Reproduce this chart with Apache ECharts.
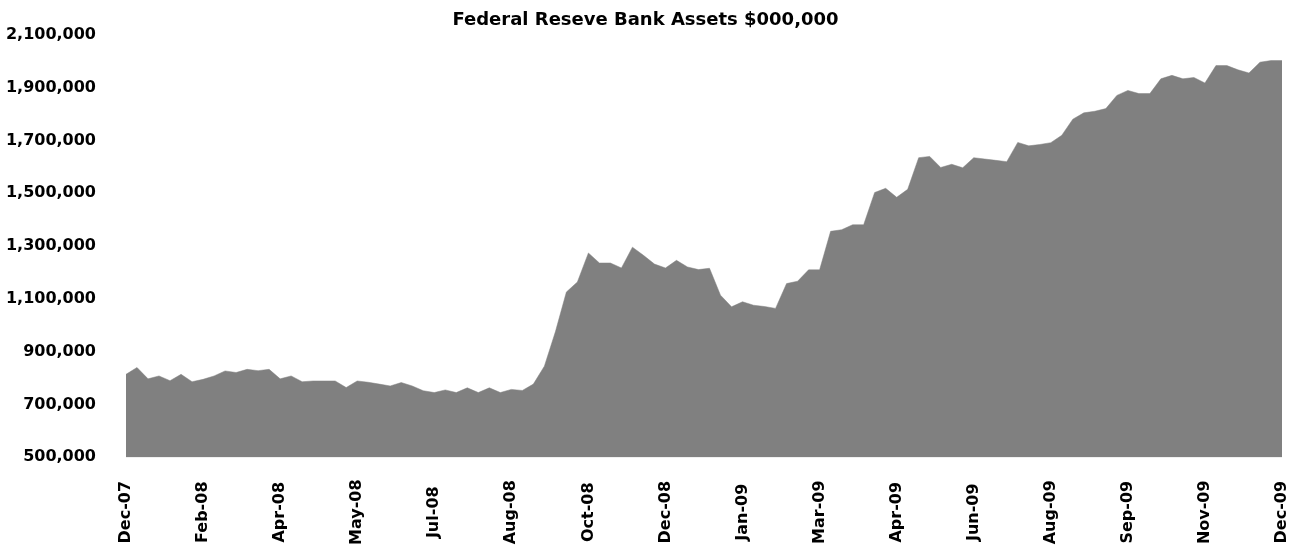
<!DOCTYPE html>
<html>
<head>
<meta charset="utf-8">
<script src="https://cdn.jsdelivr.net/npm/echarts@6/dist/echarts.min.js"></script>
<style>
  html, body { margin: 0; padding: 0; background: #fff; }
  #chart { width: 1291px; height: 548px; }
</style>
</head>
<body>
<div id="chart"></div>
<script>
// Weekly observation dates (Wednesdays)
const weeks = [
  '2007-12-26',
  '2008-01-02','2008-01-09','2008-01-16','2008-01-23','2008-01-30','2008-02-06','2008-02-13','2008-02-20','2008-02-27',
  '2008-03-05','2008-03-12','2008-03-19','2008-03-26','2008-04-02','2008-04-09','2008-04-16','2008-04-23','2008-04-30',
  '2008-05-07','2008-05-14','2008-05-21','2008-05-28','2008-06-04','2008-06-11','2008-06-18','2008-06-25','2008-07-02',
  '2008-07-09','2008-07-16','2008-07-23','2008-07-30','2008-08-06','2008-08-13','2008-08-20','2008-08-27','2008-09-03',
  '2008-09-10','2008-09-17','2008-09-24','2008-10-01','2008-10-08','2008-10-15','2008-10-22','2008-10-29','2008-11-05',
  '2008-11-12','2008-11-19','2008-11-26','2008-12-03','2008-12-10','2008-12-17','2008-12-24','2008-12-31',
  '2009-01-07','2009-01-14','2009-01-21','2009-01-28','2009-02-04','2009-02-11','2009-02-18','2009-02-25','2009-03-04',
  '2009-03-11','2009-03-18','2009-03-25','2009-04-01','2009-04-08','2009-04-15','2009-04-22','2009-04-29','2009-05-06',
  '2009-05-13','2009-05-20','2009-05-27','2009-06-03','2009-06-10','2009-06-17','2009-06-24','2009-07-01','2009-07-08',
  '2009-07-15','2009-07-22','2009-07-29','2009-08-05','2009-08-12','2009-08-19','2009-08-26','2009-09-02','2009-09-09',
  '2009-09-16','2009-09-23','2009-09-30','2009-10-07','2009-10-14','2009-10-21','2009-10-28','2009-11-04','2009-11-11',
  '2009-11-18','2009-11-25','2009-12-02','2009-12-09','2009-12-16','2009-12-23','2009-12-30'
];

// Total assets ($000,000)
const assets = [
  814000, 840000, 797000, 808000, 790000, 814000, 786000, 795000, 808000, 827000,
  821000, 833000, 828000, 833000, 797000, 808000, 786000, 789000, 789000, 789000,
  764000, 789000, 784000, 777000, 770000, 783000, 770000, 752000, 745000, 755000,
  745000, 763000, 745000, 763000, 745000, 757000, 753000, 777000, 845000, 975000,
  1126000, 1164000, 1274000, 1236000, 1236000, 1217000, 1296000, 1265000, 1232000, 1217000,
  1246000, 1221000, 1211000, 1216000, 1114000, 1070000, 1089000, 1076000, 1071000, 1064000,
  1158000, 1167000, 1210000, 1210000, 1356000, 1362000, 1381000, 1381000, 1503000, 1519000,
  1485000, 1515000, 1635000, 1640000, 1598000, 1610000, 1597000, 1635000, 1630000, 1625000,
  1620000, 1693000, 1680000, 1685000, 1692000, 1720000, 1781000, 1805000, 1811000, 1821000,
  1871000, 1890000, 1878000, 1878000, 1934000, 1947000, 1934000, 1939000, 1918000, 1984000,
  1984000, 1968000, 1956000, 1997000, 2003000, 2003000
];

const monthNames = ['Jan','Feb','Mar','Apr','May','Jun','Jul','Aug','Sep','Oct','Nov','Dec'];
const yLabelValues = [500000, 700000, 900000, 1100000, 1300000, 1500000, 1700000, 1900000, 2100000];
const titleText = 'Federal Reseve Bank Assets $000,000';

const FONT = 'DejaVu Sans';

function fmtNum(v) {
  return String(v).replace(/\B(?=(\d{3})+(?!\d))/g, ',');
}
function fmtWeek(s) {
  const p = s.split('-');
  return monthNames[parseInt(p[1], 10) - 1] + '-' + p[0].slice(2);
}

const chart = echarts.init(document.getElementById('chart'), null, { renderer: 'canvas' });
chart.setOption({
  animation: false,
  backgroundColor: '#ffffff',
  title: {
    text: titleText,
    left: 'center',
    top: 6,
    textStyle: { fontFamily: FONT, fontSize: 18, fontWeight: 'bold', color: '#000' }
  },
  grid: { left: 126, right: 9, top: 35, bottom: 88, containLabel: false },
  xAxis: {
    type: 'category',
    data: weeks,
    boundaryGap: false,
    axisLine: { show: false },
    axisTick: { show: false },
    splitLine: { show: false },
    axisLabel: {
      interval: 6,
      rotate: 90,
      align: 'center',
      verticalAlign: 'middle',
      margin: 55,
      fontFamily: FONT,
      fontSize: 16,
      fontWeight: 'bold',
      color: '#000',
      formatter: fmtWeek
    }
  },
  yAxis: {
    type: 'value',
    min: 500000,
    max: 2100000,
    interval: 100000,
    axisLine: { show: false },
    axisTick: { show: false },
    splitLine: { show: false },
    axisLabel: {
      margin: 30,
      fontFamily: FONT,
      fontSize: 16,
      fontWeight: 'bold',
      color: '#000',
      formatter: function (v) { return yLabelValues.indexOf(v) >= 0 ? fmtNum(v) : ''; }
    }
  },
  series: [{
    type: 'line',
    data: assets,
    symbol: 'none',
    lineStyle: { width: 0.5, color: '#808080' },
    areaStyle: { color: '#808080', opacity: 1 }
  }]
});
</script>
</body>
</html>
